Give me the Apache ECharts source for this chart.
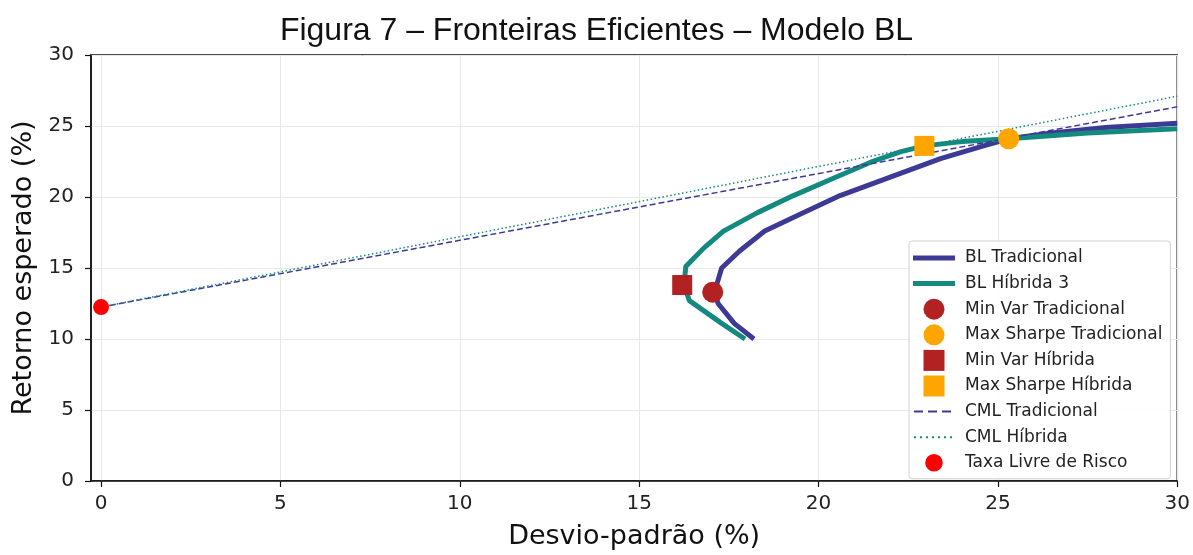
<!DOCTYPE html>
<html>
<head>
<meta charset="utf-8" />
<script src="https://cdn.jsdelivr.net/npm/echarts@6/dist/echarts.min.js"></script>
<title>Fronteiras Eficientes</title>
<style type="text/css">
  * {margin:0; padding:0;}
  body {background:#fff;}
  #grafico {width:1193px; height:555px;}
</style>
</head>
<body>
<div id="grafico"></div>
<script>
// fronteira BL Tradicional (desvio, retorno em %)
var tradX = [18.2, 17.65, 17.2, 17.1, 17.17, 17.3, 17.8, 18.5, 19.5, 20.6, 22.0, 23.4, 24.6, 25.3, 26.5, 28.0, 30.0];
var tradY = [10.0, 11.1, 12.5, 13.3, 13.9, 15.0, 16.2, 17.6, 18.8, 20.1, 21.4, 22.7, 23.6, 24.1, 24.5, 24.9, 25.2];
// fronteira BL Híbrida 3
var hibX = [17.95, 17.3, 16.4, 16.25, 16.3, 16.8, 17.35, 18.3, 19.3, 20.4, 21.5, 22.3, 22.95, 24.0, 25.3, 27.5, 30.0];
var hibY = [10.0, 11.1, 12.7, 13.8, 15.1, 16.4, 17.6, 18.9, 20.1, 21.3, 22.5, 23.2, 23.6, 23.9, 24.1, 24.5, 24.8];
// pontos de destaque [desvio, retorno]
var minVarTrad = [17.05, 13.3];
var maxSharpeTrad = [25.3, 24.1];
var minVarHib = [16.2, 13.8];
var maxSharpeHib = [22.95, 23.6];
var taxaLivre = [0, 12.25];
// linhas de mercado de capitais (extremos)
var cmlX = [0, 30];
var cmlTradY = [12.25, 26.35];
var cmlHibY = [12.25, 27.1];
var ticksX = [0, 5, 10, 15, 20, 25, 30];

function pares(xs, ys) {
  var out = [];
  for (var i = 0; i < xs.length; i++) out.push([xs[i], ys[i]]);
  return out;
}

var azul = '#3d3a96';
var verde = '#14897f';
var vinho = '#b22222';
var laranja = '#ffa500';
// icones da legenda numa caixa de 42x22 (os M iniciais fixam a caixa)
var iconeLinha = 'path://M0,0M42,22M0,8.5L42,8.5L42,13.5L0,13.5Z';
var iconeTracos = 'path://M0,0M42,22M1,10h9v2h-9zM15,10h9v2h-9zM29,10h9v2h-9z';
var iconePontos = 'path://M0,0M42,22M1,10h2v2h-2zM7,10h2v2h-2zM13,10h2v2h-2zM19,10h2v2h-2zM25,10h2v2h-2zM31,10h2v2h-2zM37,10h2v2h-2z';
var iconeQuadrado = 'path://M0,0M42,22M10.5,0.5L31.5,0.5L31.5,21.5L10.5,21.5Z';
var iconeCirculo = 'path://M0,0M42,22M10.5,11A10.5,10.5,0,1,1,31.5,11A10.5,10.5,0,1,1,10.5,11Z';
var iconeCirculoP = 'path://M0,0M42,22M12.2,11A8.8,8.8,0,1,1,29.8,11A8.8,8.8,0,1,1,12.2,11Z';

var chart = echarts.init(document.getElementById('grafico'));
chart.setOption({
  animation: false,
  title: {
    text: 'Figura 7 – Fronteiras Eficientes – Modelo BL',
    left: 'center',
    top: 10,
    textStyle: {fontFamily: 'Liberation Sans', fontSize: 32, fontWeight: 'normal', color: '#111'}
  },
  grid: {left: 91, right: 14, top: 55, bottom: 69, show: true, borderColor: '#111', borderWidth: 1.5, backgroundColor: 'transparent'},
  xAxis: {
    type: 'value', min: -0.28, max: 30,
    name: 'Desvio-padrão (%)', nameLocation: 'middle', nameGap: 42,
    nameTextStyle: {fontFamily: 'DejaVu Sans', fontSize: 27, color: '#111'},
    axisLine: {lineStyle: {color: '#111', width: 1.5}},
    axisTick: {show: true, length: 6, lineStyle: {color: '#111', width: 1.2}, customValues: ticksX},
    axisLabel: {fontFamily: 'DejaVu Sans', fontSize: 20, color: '#222', margin: 13, customValues: ticksX},
    splitLine: {show: true, lineStyle: {color: '#e8e8e8', width: 1}}
  },
  yAxis: {
    type: 'value', min: 0, max: 30, interval: 5,
    name: 'Retorno esperado (%)', nameLocation: 'middle', nameGap: 53,
    nameTextStyle: {fontFamily: 'DejaVu Sans', fontSize: 27, color: '#111'},
    axisLine: {show: true, onZero: false, lineStyle: {color: '#111', width: 1.5}},
    axisTick: {show: true, length: 6, lineStyle: {color: '#111', width: 1.2}},
    axisLabel: {fontFamily: 'DejaVu Sans', fontSize: 20, color: '#222', margin: 17},
    splitLine: {show: true, lineStyle: {color: '#e8e8e8', width: 1}}
  },
  legend: {
    orient: 'vertical', left: 909, top: 241,
    itemWidth: 42, itemHeight: 22, itemGap: 3.6,
    padding: [6, 8, 5, 4],
    borderColor: '#d0d0d0', borderWidth: 1, borderRadius: 3,
    backgroundColor: 'rgba(255,255,255,0.85)',
    textStyle: {fontFamily: 'DejaVu Sans', fontSize: 17, color: '#222', padding: [0, 0, 0, 5]},
    data: [
      {name: 'BL Tradicional', icon: iconeLinha},
      {name: 'BL Híbrida 3', icon: iconeLinha},
      {name: 'Min Var Tradicional', icon: iconeCirculo},
      {name: 'Max Sharpe Tradicional', icon: iconeCirculo},
      {name: 'Min Var Híbrida', icon: iconeQuadrado},
      {name: 'Max Sharpe Híbrida', icon: iconeQuadrado},
      {name: 'CML Tradicional', icon: iconeTracos},
      {name: 'CML Híbrida', icon: iconePontos},
      {name: 'Taxa Livre de Risco', icon: iconeCirculoP}
    ]
  },
  series: [
    {name: 'BL Tradicional', type: 'line', data: pares(tradX, tradY), symbol: 'none', z: 3,
     lineStyle: {color: azul, width: 5}, itemStyle: {color: azul}},
    {name: 'BL Híbrida 3', type: 'line', data: pares(hibX, hibY), symbol: 'none', z: 3,
     lineStyle: {color: verde, width: 5}, itemStyle: {color: verde}},
    {name: 'Min Var Tradicional', type: 'scatter', data: [minVarTrad], symbol: 'circle', symbolSize: 21, z: 6,
     itemStyle: {color: vinho, opacity: 1}},
    {name: 'Max Sharpe Tradicional', type: 'scatter', data: [maxSharpeTrad], symbol: 'circle', symbolSize: 21, z: 6,
     itemStyle: {color: laranja, opacity: 1}},
    {name: 'Min Var Híbrida', type: 'scatter', data: [minVarHib], symbol: 'rect', symbolSize: 20, z: 6,
     itemStyle: {color: vinho, opacity: 1}},
    {name: 'Max Sharpe Híbrida', type: 'scatter', data: [maxSharpeHib], symbol: 'rect', symbolSize: 20, z: 6,
     itemStyle: {color: laranja, opacity: 1}},
    {name: 'CML Tradicional', type: 'line', data: pares(cmlX, cmlTradY), symbol: 'none', z: 4,
     lineStyle: {color: azul, width: 1.5, type: [6, 3]}, itemStyle: {color: azul}},
    {name: 'CML Híbrida', type: 'line', data: pares(cmlX, cmlHibY), symbol: 'none', z: 4,
     lineStyle: {color: verde, width: 1.5, type: [1.5, 2.5]}, itemStyle: {color: verde}},
    {name: 'Taxa Livre de Risco', type: 'scatter', data: [taxaLivre], symbol: 'circle', symbolSize: 16, z: 7,
     itemStyle: {color: '#ff0000', opacity: 1}}
  ]
});
</script>
</body>
</html>
